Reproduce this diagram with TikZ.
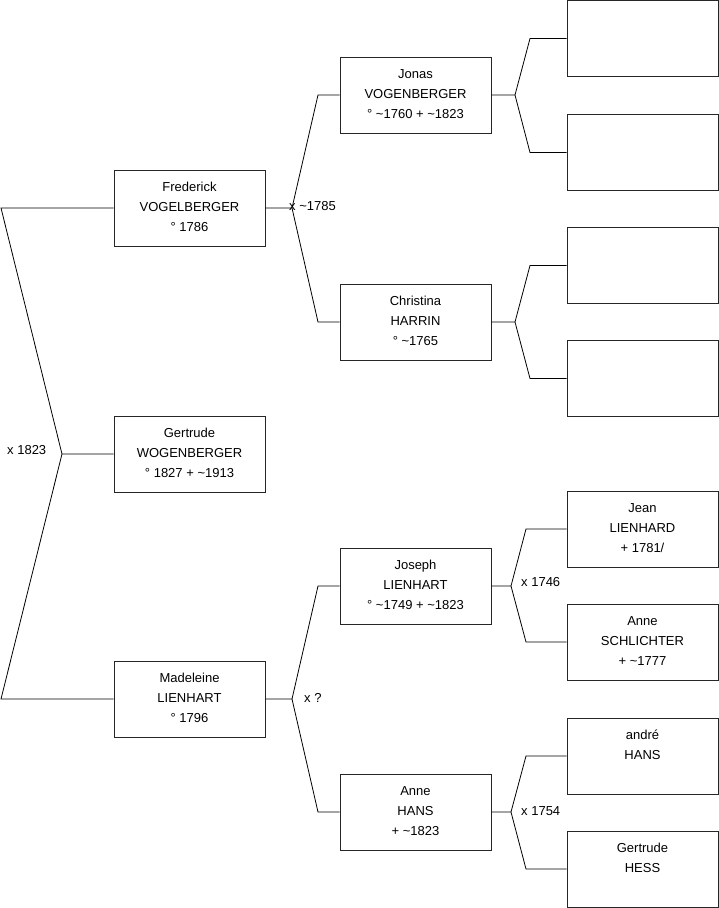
\documentclass[tikz,border=0pt]{standalone}
\usepackage{fontspec}
\setmainfont{Liberation Sans}
\newcommand\pl[3]{\rule{0pt}{10pt}#1\\#2\\#3\rule[-4pt]{0pt}{4pt}}
\begin{document}
\begin{tikzpicture}[x=1pt,y=-1pt,
  person/.style={draw=black!85, line width=0.8pt, minimum width=151pt, minimum height=76pt,
    inner sep=0pt, align=center, font=\fontsize{13pt}{20pt}\selectfont},
  link/.style={draw=black, line width=0.8pt},
  lbl/.style={anchor=west, inner sep=0pt, font=\fontsize{13pt}{15pt}\selectfont}]
\useasboundingbox (0,0) rectangle (719,908);

% generation 1
\node[person] (F) at (189.5,208) {\pl{Frederick}{VOGELBERGER}{° 1786}};
\node[person] (G) at (189.5,454) {\pl{Gertrude}{WOGENBERGER}{° 1827 + \textasciitilde1913}};
\node[person] (M) at (189.5,699) {\pl{Madeleine}{LIENHART}{° 1796}};

% generation 2
\node[person] (J) at (415.5,95) {\pl{Jonas}{VOGENBERGER}{° \textasciitilde1760 + \textasciitilde1823}};
\node[person] (C) at (415.5,322) {\pl{Christina}{HARRIN}{° \textasciitilde1765}};
\node[person] (Jo) at (415.5,586) {\pl{Joseph}{LIENHART}{° \textasciitilde1749 + \textasciitilde1823}};
\node[person] (A) at (415.5,812) {\pl{Anne}{HANS}{+ \textasciitilde1823}};

% generation 3
\node[person] (R1) at (642.5,38.5) {};
\node[person] (R2) at (642.5,152.5) {};
\node[person] (R3) at (642.5,265.5) {};
\node[person] (R4) at (642.5,378.5) {};
\node[person] (R5) at (642.5,529) {\pl{Jean}{LIENHARD}{+ 1781/}};
\node[person] (R6) at (642.5,642) {\pl{Anne}{SCHLICHTER}{+ \textasciitilde1777}};
\node[person] (R7) at (642.5,756) {\pl{andré}{HANS}{}};
\node[person] (R8) at (642.5,869) {\pl{Gertrude}{HESS}{}};

% fork points
\coordinate (f0) at (62,454);
\coordinate (e0a) at (1,208);
\coordinate (e0b) at (1,699);
\coordinate (f1) at (292,208);
\coordinate (e1a) at (318,95);
\coordinate (e1b) at (318,322);
\coordinate (f2) at (292,699);
\coordinate (e2a) at (318,586);
\coordinate (e2b) at (318,812);
\coordinate (f3) at (515,95);
\coordinate (e3a) at (530,38.5);
\coordinate (e3b) at (530,152.5);
\coordinate (f4) at (515,322);
\coordinate (e4a) at (530,265.5);
\coordinate (e4b) at (530,378.5);
\coordinate (f5) at (511,586);
\coordinate (e5a) at (526,529);
\coordinate (e5b) at (526,642);
\coordinate (f6) at (511,812);
\coordinate (e6a) at (526,756);
\coordinate (e6b) at (526,869);

% connectors
\draw[link] (G.west) -- (f0) -- (e0a) -- (F.west);
\draw[link] (f0) -- (e0b) -- (M.west);
\draw[link] (F.east) -- (f1) -- (e1a) -- (J.west);
\draw[link] (f1) -- (e1b) -- (C.west);
\draw[link] (M.east) -- (f2) -- (e2a) -- (Jo.west);
\draw[link] (f2) -- (e2b) -- (A.west);
\draw[link] (J.east) -- (f3) -- (e3a) -- (R1.west);
\draw[link] (f3) -- (e3b) -- (R2.west);
\draw[link] (C.east) -- (f4) -- (e4a) -- (R3.west);
\draw[link] (f4) -- (e4b) -- (R4.west);
\draw[link] (Jo.east) -- (f5) -- (e5a) -- (R5.west);
\draw[link] (f5) -- (e5b) -- (R6.west);
\draw[link] (A.east) -- (f6) -- (e6a) -- (R7.west);
\draw[link] (f6) -- (e6b) -- (R8.west);

% marriage labels
\node[lbl] (m0) at (7,450) {x 1823};
\node[lbl] (m1) at (289,206) {x \textasciitilde1785};
\node[lbl] (m2) at (304,697.5) {x ?};
\node[lbl] (m5) at (521,582.5) {x 1746};
\node[lbl] (m6) at (521,811) {x 1754};
\end{tikzpicture}
\end{document}
